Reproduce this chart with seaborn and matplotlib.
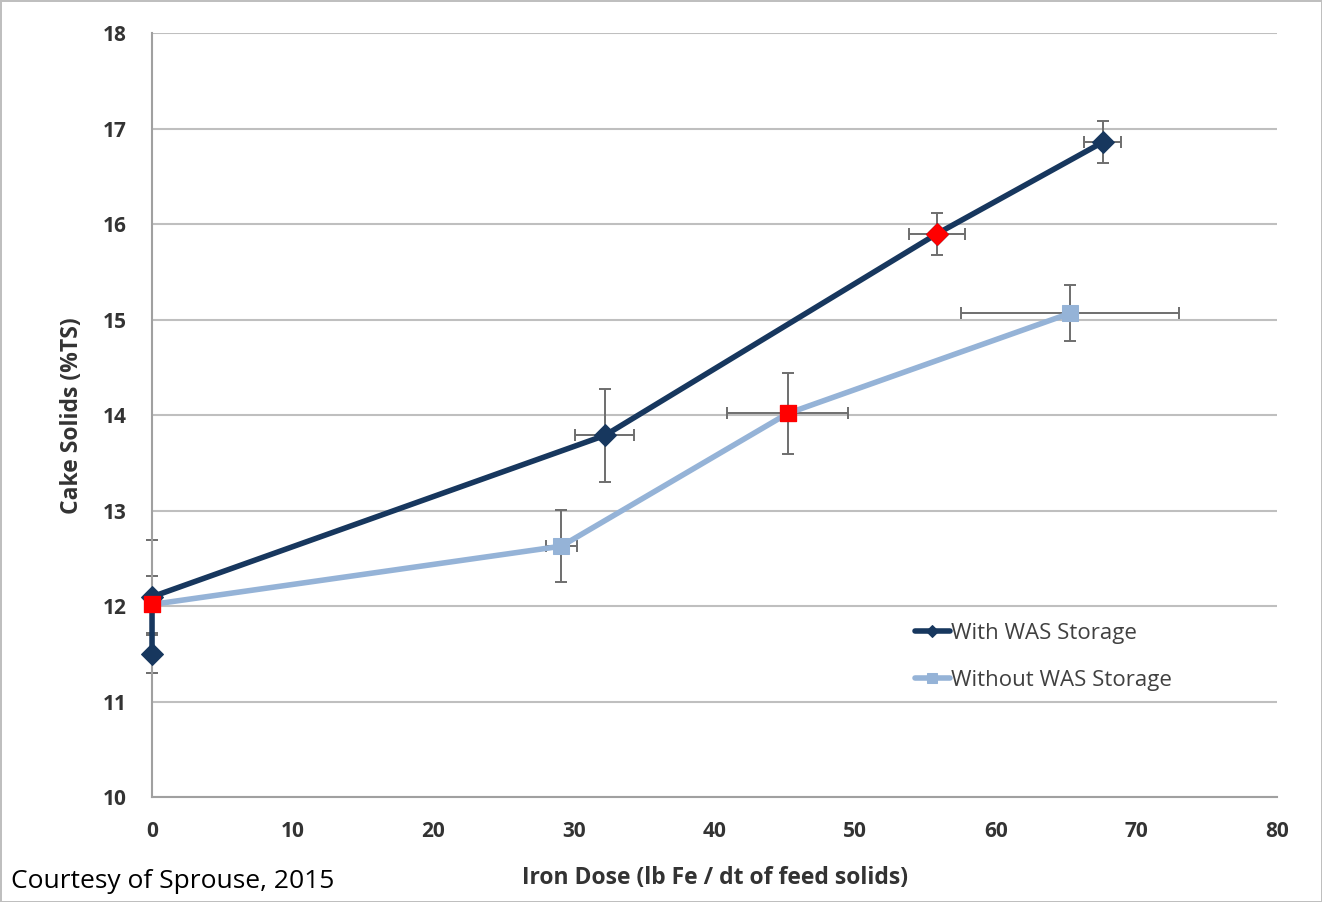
import matplotlib
matplotlib.use('Agg')
import matplotlib.pyplot as plt
import seaborn as sns
import pandas as pd

# With WAS storage
with_x = [0, 0, 32.2, 55.8, 67.6]
with_y = [11.5, 12.1, 13.79, 15.9, 16.86]
with_xerr = [0, 0, 2.1, 2.0, 1.3]
with_yerr = [0.2, 0.6, 0.49, 0.22, 0.22]
with_red = [False, False, False, True, False]

# Without WAS storage
without_x = [0, 29.1, 45.2, 65.3]
without_y = [12.02, 12.63, 14.02, 15.07]
without_xerr = [0, 1.1, 4.3, 7.75]
without_yerr = [0.3, 0.38, 0.42, 0.29]
without_red = [True, False, True, False]

labels = ['With WAS Storage', 'Without WAS Storage']
xticks = [0, 10, 20, 30, 40, 50, 60, 70, 80]
yticks = [10, 11, 12, 13, 14, 15, 16, 17, 18]

dark = '#17375E'
light = '#95B3D7'

df_with = pd.DataFrame({'x': with_x, 'y': with_y, 'xerr': with_xerr,
                        'yerr': with_yerr, 'red': with_red})
df_without = pd.DataFrame({'x': without_x, 'y': without_y, 'xerr': without_xerr,
                           'yerr': without_yerr, 'red': without_red})

sns.set_style('white')
plt.rcParams['font.family'] = ['Open Sans', 'DejaVu Sans']

fig = plt.figure(figsize=(13.22, 9.02), dpi=100)
ax = fig.add_axes([0.115, 0.116, 0.851, 0.847])

# error bars first (behind the lines)
for df in (df_with, df_without):
    eb = ax.errorbar(df['x'], df['y'], xerr=df['xerr'], yerr=df['yerr'], fmt='none',
                     ecolor='#6E6E6E', elinewidth=1.4, capsize=4, capthick=1.4, zorder=2)
    for art in eb.lines[1] + eb.lines[2]:
        art.set_clip_on(False)

sns.lineplot(data=df_without, x='x', y='y', sort=False, estimator=None, ax=ax,
             color=light, linewidth=4, marker='s', markersize=11,
             markeredgecolor=light, label=labels[1], zorder=3, clip_on=False)
sns.lineplot(data=df_with, x='x', y='y', sort=False, estimator=None, ax=ax,
             color=dark, linewidth=4, marker='D', markersize=11,
             markeredgecolor=dark, label=labels[0], zorder=4, clip_on=False)

# highlighted points in red
r1 = df_with[df_with['red']]
r2 = df_without[df_without['red']]
sns.scatterplot(data=r1, x='x', y='y', ax=ax, color='#FF0000', marker='D', s=120,
                edgecolor='#FF0000', zorder=5, legend=False, clip_on=False)
sns.scatterplot(data=r2, x='x', y='y', ax=ax, color='#FF0000', marker='s', s=140,
                edgecolor='#FF0000', zorder=5, legend=False, clip_on=False)

ax.set_xlim(0, 80)
ax.set_ylim(10, 18)
ax.set_xticks(xticks)
ax.set_yticks(yticks)
ax.set_xticklabels([str(t) for t in xticks], fontsize=15, fontweight='bold', color='#333333')
ax.set_yticklabels([str(t) for t in yticks], fontsize=15, fontweight='bold', color='#333333')
ax.yaxis.grid(True, color='#BFBFBF', linewidth=1.5)
ax.xaxis.grid(False)
ax.tick_params(axis='x', length=5, color='#A0A0A0', pad=12)
ax.tick_params(axis='y', length=0, pad=18)
for s in ['top', 'right']:
    ax.spines[s].set_visible(False)
ax.spines['left'].set_color('#A0A0A0')
ax.spines['bottom'].set_color('#A0A0A0')
ax.spines['left'].set_linewidth(1.5)
ax.spines['bottom'].set_linewidth(1.5)

ax.set_xlabel('Iron Dose (lb Fe / dt of feed solids)', fontsize=16.5, fontweight='bold',
              color='#333333', labelpad=17)
ax.set_ylabel('Cake Solids (%TS)', fontsize=16.5, fontweight='bold', color='#333333',
              labelpad=14)

handles, labs = ax.get_legend_handles_labels()
order = [labs.index(l) for l in labels]
leg = ax.legend([handles[i] for i in order], [labs[i] for i in order],
                loc='upper left', bbox_to_anchor=(0.66, 0.255), frameon=False,
                fontsize=16, handlelength=1.6, handletextpad=0.05, labelspacing=1.2,
                markerscale=0.6)
for t in leg.get_texts():
    t.set_color('#404040')

fig.text(0.008, 0.015, 'Courtesy of Sprouse, 2015', fontsize=19, color='black')

fig.patch.set_edgecolor('#BFBFBF')
fig.patch.set_linewidth(2)

fig.savefig('out.png', dpi=100)
